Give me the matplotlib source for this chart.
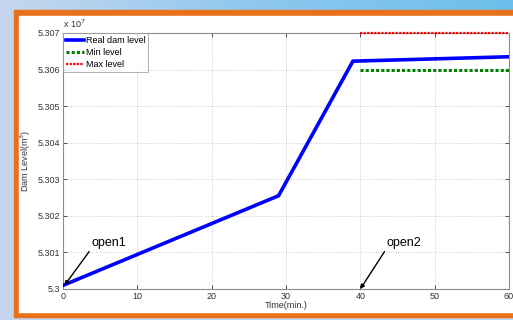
import numpy as np
import matplotlib
matplotlib.use("Agg")
import matplotlib.pyplot as plt
from matplotlib.patches import Rectangle
from matplotlib.ticker import FuncFormatter
from matplotlib.colors import LinearSegmentedColormap

plt.rcParams['font.family'] = ['Liberation Sans', 'DejaVu Sans']

# Dam level over time (m^3), piecewise linear
time_real = [0, 29, 39, 60]
level_real = [5.30010e7, 5.30255e7, 5.30623e7, 5.30635e7]

# Operating limits after the second opening
time_limits = [40, 60]
level_min = [5.306e7, 5.306e7]
level_max = [5.307e7, 5.307e7]

x_ticks = [0, 10, 20, 30, 40, 50, 60]
y_ticks = [5.300e7, 5.301e7, 5.302e7, 5.303e7, 5.304e7, 5.305e7, 5.306e7, 5.307e7]

W, H = 513, 320
fig = plt.figure(figsize=(W / 100, H / 100), dpi=100)

# Slide-style backdrop: blue strips and orange frame
bg = fig.add_axes([0, 0, 1, 1], zorder=-10)
bg.axis('off')
grad = np.linspace(0, 1, 256).reshape(1, -1)
cmap = LinearSegmentedColormap.from_list('sky', ['#c6d6ee', '#8ec8ee', '#6cbfeb'])
bg.add_patch(Rectangle((0, 0), W, H, color='#c4d4ec', zorder=0))
bg.imshow(grad, extent=(0, W, 10, 0), aspect='auto', cmap=cmap, zorder=1)
bg.add_patch(Rectangle((14, 10), W - 14, 307, color='#e8721c', zorder=2))
bg.add_patch(Rectangle((19, 16), W - 19, 296, color='white', zorder=3))
bg.set_xlim(0, W)
bg.set_ylim(H, 0)

ax = fig.add_axes([63 / W, 1 - 289 / H, (509 - 63) / W, (289 - 33) / H])
ax.plot(time_real, level_real, color='#0000ff', lw=2.6, label='Real dam level',
        solid_joinstyle='miter', zorder=3)
ax.plot(time_limits, level_min, color='#008000', lw=2.2, linestyle=(0, (1.0, 0.7)),
        label='Min level', zorder=3)
ax.plot(time_limits, level_max, color='#ff0000', lw=1.6, linestyle=(0, (1.0, 0.6)),
        label='Max level', zorder=3, clip_on=False)

ax.set_xlim(0, 60)
ax.set_ylim(5.300e7, 5.307e7)
ax.set_xticks(x_ticks)
ax.set_yticks(y_ticks)
ax.yaxis.set_major_formatter(FuncFormatter(lambda v, p: f"{round(v / 1e7, 3):g}"))
ax.tick_params(direction='in', length=3, width=0.6, labelsize=6.5, colors='#333333',
               top=True, right=True, pad=2)
for s in ax.spines.values():
    s.set_color('#8c8c8c')
    s.set_linewidth(0.8)
ax.grid(True, linestyle=(0, (1, 2)), color='#b8b8b8', linewidth=0.6)

ax.set_xlabel('Time(min.)', fontsize=6.5, color='#333333', labelpad=0)
ax.set_ylabel('Dam Level(m$^3$)', fontsize=6.5, color='#333333', labelpad=3)
ax.text(0.0, 1.01, 'x 10$^7$', transform=ax.transAxes, fontsize=6.5,
        color='#333333', ha='left', va='bottom')

leg = ax.legend(loc='upper left', fontsize=6.5, frameon=True, fancybox=False,
                borderaxespad=0, handlelength=2.0, handletextpad=0.2,
                labelspacing=0.35, borderpad=0.3)
leg.get_frame().set_edgecolor('#8c8c8c')
leg.get_frame().set_linewidth(0.6)

ax.annotate('open1', xy=(0.2, level_real[0]), xytext=(3.8, 5.3011e7),
            fontsize=9, ha='left', va='bottom',
            arrowprops=dict(arrowstyle='-|>', color='black', lw=1.0,
                            mutation_scale=6, shrinkA=0, shrinkB=0,
                            relpos=(0.0, 0.0)))
ax.annotate('open2', xy=(40, 5.300e7), xytext=(43.5, 5.3011e7),
            fontsize=9, ha='left', va='bottom',
            arrowprops=dict(arrowstyle='-|>', color='black', lw=1.0,
                            mutation_scale=6, shrinkA=0, shrinkB=0,
                            relpos=(0.0, 0.0)))

fig.savefig('out.png', dpi=100)
